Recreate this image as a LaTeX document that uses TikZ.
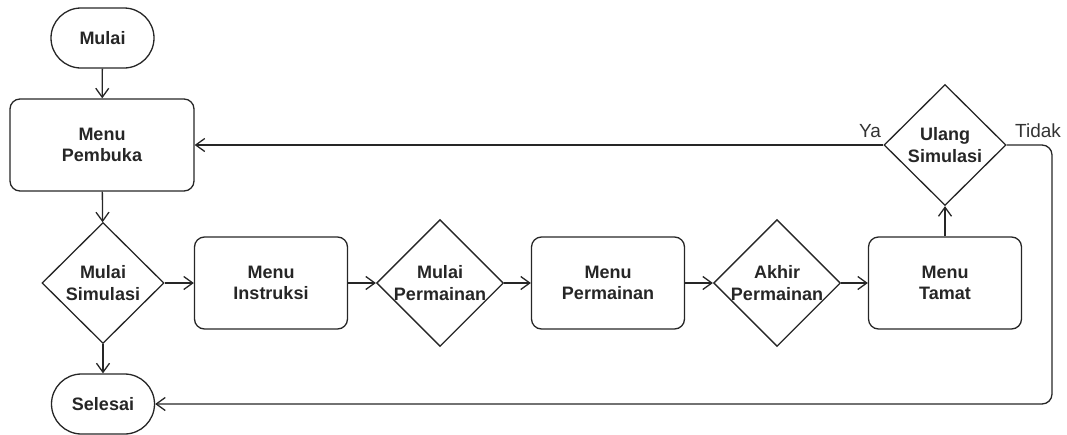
\documentclass[tikz,border=0pt]{standalone}
\usepackage{fontspec}
\setmainfont{Liberation Sans}
\usetikzlibrary{shapes.geometric,arrows.meta}
\begin{document}
\begin{tikzpicture}[x=1pt,y=-1pt,
  base/.style={draw=black!85, line width=1.3pt, align=center, inner sep=0pt,
    font=\bfseries\fontsize{18}{21.6}\selectfont, text=black!85},
  term/.style={base, rectangle, rounded corners=30pt, minimum width=103pt, minimum height=60pt},
  proc/.style={base, rectangle, rounded corners=10pt, minimum width=153pt, minimum height=92pt},
  dec/.style={base, diamond, minimum width=122pt, minimum height=121pt},
  arr/.style={draw=black!85, line width=1.3pt, -{Straight Barb[length=9pt,width=13pt,line width=1.3pt]}},
  lbl/.style={font=\fontsize{19}{22}\selectfont, text=black!80, inner sep=0pt}]
\useasboundingbox (0,0) rectangle (1067,434);
\node[term] (mulai) at (102.5,38) {Mulai};
\node[proc, minimum width=184pt] (pembuka) at (102,145) {Menu\\Pembuka};
\node[dec] (msim) at (103,283) {Mulai\\Simulasi};
\node[term] (selesai) at (103,404) {Selesai};
\node[proc] (instr) at (271,283) {Menu\\Instruksi};
\node[dec] (mperm) at (440,283) {Mulai\\Permainan};
\node[proc] (menuperm) at (608,283) {Menu\\Permainan};
\node[dec] (akhir) at (777,283) {Akhir\\Permainan};
\node[proc] (tamat) at (945,283) {Menu\\Tamat};
\node[dec] (ulang) at (945,145) {Ulang\\Simulasi};
\node[lbl] (ya) at (870,131) {Ya};
\node[lbl] (tidak) at (1038,131) {Tidak};
\coordinate (rt) at (1052,145);
\coordinate (rb) at (1052,404);
\draw[arr] (mulai) -- (pembuka);
\draw[arr] (pembuka) -- (msim);
\draw[arr] (msim) -- (selesai);
\draw[arr] (msim) -- (instr);
\draw[arr] (instr) -- (mperm);
\draw[arr] (mperm) -- (menuperm);
\draw[arr] (menuperm) -- (akhir);
\draw[arr] (akhir) -- (tamat);
\draw[arr] (tamat) -- (ulang);
\draw[arr] (ulang) -- (pembuka);
\draw[arr, rounded corners=10pt] (ulang.east) -- (rt) -- (rb) -- (selesai.east);
\end{tikzpicture}
\end{document}
